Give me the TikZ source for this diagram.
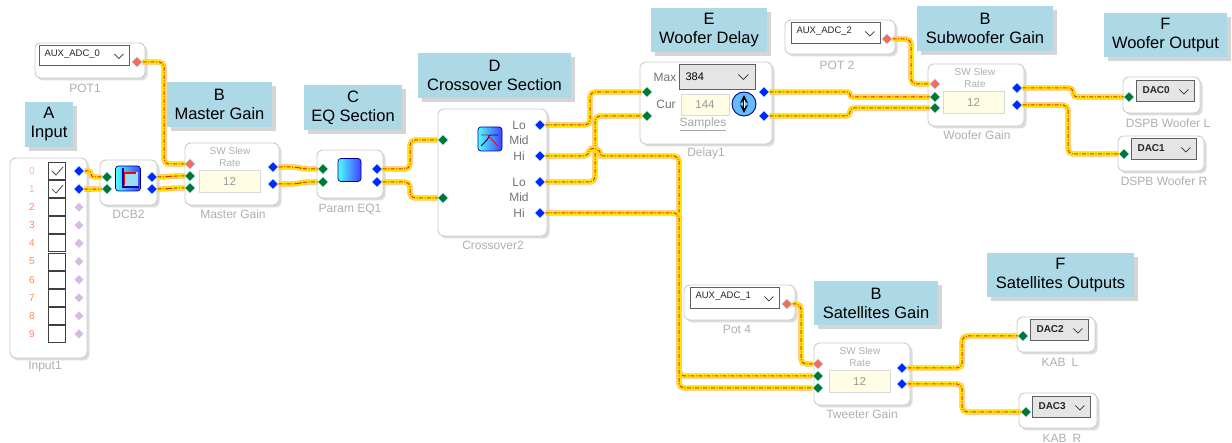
\documentclass[tikz,border=0pt]{standalone}
\usepackage{fontspec}
\setmainfont{Liberation Sans}
\usetikzlibrary{shapes.geometric,shadows}
\definecolor{titlebg}{RGB}{173,216,230}
\definecolor{wireyel}{RGB}{255,230,0}
\definecolor{wirered}{RGB}{225,45,20}
\definecolor{portblue}{RGB}{0,40,255}
\definecolor{portgreen}{RGB}{0,120,50}
\definecolor{portred}{RGB}{240,110,90}
\definecolor{portidle}{RGB}{215,185,225}
\definecolor{numsalmon}{RGB}{255,135,95}
\definecolor{cream}{RGB}{255,253,228}
\definecolor{lbl}{RGB}{175,175,175}
\pgfdeclarelayer{front}
\pgfsetlayers{main,front}
\tikzset{
  titlebox/.style={fill=titlebg, align=center, inner sep=0pt,
    font=\fontsize{16.5}{19}\selectfont,
    drop shadow={shadow xshift=4pt, shadow yshift=-4pt, fill=gray!55, opacity=.6}},
  block/.style={draw=gray!40, fill=white, rounded corners=6pt, line width=0.9pt,
    drop shadow={shadow xshift=2.5pt, shadow yshift=-2.5pt, fill=gray!60, opacity=.45}},
  blockname/.style={text=lbl, font=\fontsize{12}{12}\selectfont},
  slewtxt/.style={text=lbl, font=\fontsize{10}{10}\selectfont},
  xotxt/.style={text=gray!90!black, font=\fontsize{12}{12}\selectfont},
  valbox/.style={draw=gray!30, fill=cream, inner sep=0pt, text=gray!80,
    font=\fontsize{11.5}{12}\selectfont},
  dd/.style={draw=gray!75!black, fill=white, inner sep=0pt, line width=0.7pt},
  dacdd/.style={dd, fill=gray!20},
  ddtext/.style={anchor=west, text=black!85, font=\fontsize{9.5}{10}\selectfont},
  dactext/.style={anchor=west, text=black!85, font=\bfseries\fontsize{10}{10}\selectfont},
  chev/.style={draw=gray!40!black, line width=0.8pt},
  chk/.style={draw=black!75, fill=white, minimum size=17pt, inner sep=0pt, line width=0.8pt},
  checkmark/.style={draw=black!70, line width=0.8pt},
  icon/.style={draw=blue!60!black, rounded corners=3pt, minimum size=24pt, inner sep=0pt,
    left color=cyan!70, right color=blue!75, line width=0.7pt},
  port/.style={diamond, inner sep=0pt, minimum size=10.5pt, draw=cyan!30, line width=0.5pt},
  outp/.style={port, fill=portblue},
  inp/.style={port, fill=portgreen},
  ctlp/.style={port, fill=portred},
  idlep/.style={diamond, inner sep=0pt, minimum size=9pt, fill=portidle},
  wire/.style={draw=wirered, line width=1pt, dash pattern=on 4pt off 1.5pt on 1pt off 1.5pt,
    rounded corners=5pt,
    preaction={draw=orange!55, line width=5.4pt, solid},
    preaction={draw=wireyel, line width=4.2pt, solid}},
}
\begin{document}
\begin{tikzpicture}[x=1pt,y=-1pt]
    \path[use as bounding box, fill=white] (0,0) rectangle (1232,443);
    % Title boxes
    \node[titlebox, minimum width=48pt, minimum height=45pt] (tA) at (49,124.5) {A\\Input};
    \node[titlebox, minimum width=105pt, minimum height=45pt] (tB1) at (219.5,104.5) {B\\Master Gain};
    \node[titlebox, minimum width=98pt, minimum height=45pt] (tC) at (353,107.5) {C\\EQ Section};
    \node[titlebox, minimum width=153pt, minimum height=45pt] (tD) at (494.5,75.5) {D\\Crossover Section};
    \node[titlebox, minimum width=116pt, minimum height=44pt] (tE) at (709,30) {E\\Woofer Delay};
    \node[titlebox, minimum width=136pt, minimum height=45pt] (tB2) at (985,28.5) {B\\Subwoofer Gain};
    \node[titlebox, minimum width=123pt, minimum height=44pt] (tF1) at (1165.5,35) {F\\Woofer Output};
    \node[titlebox, minimum width=124pt, minimum height=44pt] (tB3) at (876,303) {B\\Satellites Gain};
    \node[titlebox, minimum width=147pt, minimum height=44pt] (tF2) at (1060.5,275) {F\\Satellites Outputs};
    % Input box
    \node[block, minimum width=77pt, minimum height=200pt] (inbox) at (48.5,258) {};
    \node[blockname] (inname) at (45,367) {Input1};
    \foreach \i/\ncol in {0/numsalmon!60,1/numsalmon!60,2/numsalmon,3/numsalmon,4/numsalmon,
                          5/numsalmon,6/numsalmon,7/numsalmon,8/numsalmon,9/numsalmon} {
      \node[text=\ncol, font=\fontsize{10}{10}\selectfont] (num\i) at (32,171+18.1*\i) {\i};
      \node[chk] (chk\i) at (57,171+18.1*\i) {};
    }
    \draw[checkmark] ([xshift=-5pt]chk0.center) -- ++(4,4) -- ++(7,-8);
    \draw[checkmark] ([xshift=-5pt]chk1.center) -- ++(4,4) -- ++(7,-8);
    % POT1 box
    \node[block, minimum width=110pt, minimum height=35pt] (pot1) at (90,60.5) {};
    \node[dd, minimum width=90pt, minimum height=20pt] (pot1dd) at (84,55) {};
    \node[ddtext] (pot1txt) at (41,54) {AUX\_ADC\_0};
    \draw[chev] ([xshift=-15pt,yshift=1pt]pot1dd.east) -- ++(4.5,4.5) -- ++(4.5,-4.5);
    \node[blockname] (pot1name) at (85,88) {POT1};
    % DCB2 box
    \node[block, minimum width=57pt, minimum height=45pt] (dcb) at (128.5,182.5) {};
    \node[icon, minimum size=25pt] (dcbicon) at (128,178.5) {};
    \fill[cyan!40] (124,172) rectangle (138,186);
    \draw[blue!70!black, line width=1.3pt] (123,168) -- (123,187) -- (139,187);
    \draw[red, line width=1.3pt] (124.5,185) -- (124.5,173) -- (136,173);
    \node[blockname] (dcbname) at (128.5,214) {DCB2};
    % Master gain box
    \node[block, minimum width=94pt, minimum height=62pt] (mg) at (232,174) {};
    \node[slewtxt] (mgsw) at (230,151) {SW Slew};
    \node[slewtxt] (mgrate) at (230,163) {Rate};
    \node[valbox, minimum width=61pt, minimum height=22pt] (mgval) at (229.5,181) {12};
    \node[blockname] (mgname) at (233,214) {Master Gain};
    % Param EQ box
    \node[block, minimum width=66pt, minimum height=48pt] (eq) at (350,174) {};
    \node[icon, minimum size=23pt] (eqicon) at (349.5,170) {};
    \node[blockname] (eqname) at (350,209) {Param EQ1};
    % Crossover box
    \node[block, minimum width=109pt, minimum height=127pt] (xo) at (492.5,172.5) {};
    \node[icon] (xoicon) at (490,139) {};
    \draw[blue!30!black, line width=0.8pt] (481,146) -- (487,140) -- (490,135) -- (498,135);
    \draw[red, line width=0.8pt] (481,135) -- (488,135) -- (492,140) -- (498,146);
    \node[xotxt] (xlo1) at (519,125) {Lo};
    \node[xotxt] (xmid1) at (519,140) {Mid};
    \node[xotxt] (xhi1) at (519,156) {Hi};
    \node[xotxt] (xlo2) at (519,182) {Lo};
    \node[xotxt] (xmid2) at (519,197) {Mid};
    \node[xotxt] (xhi2) at (519,213) {Hi};
    \node[blockname] (xoname) at (493,245) {Crossover2};
    % Delay box
    \node[block, minimum width=132pt, minimum height=82pt] (dl) at (706,103) {};
    \node[xotxt] (dlmaxlbl) at (665,77) {Max};
    \node[dacdd, minimum width=76pt, minimum height=25pt] (dlmax) at (717,76.5) {};
    \node[anchor=west, font=\fontsize{11}{11}\selectfont] (dlmaxtxt) at (682,77) {384};
    \draw[chev] ([xshift=-17pt,yshift=2pt]dlmax.east) -- ++(5,5) -- ++(5,-5);
    \node[xotxt] (dlcurlbl) at (666,104) {Cur};
    \node[valbox, minimum width=48pt, minimum height=21pt] (dlcur) at (705,104.5) {144};
    \node[xotxt, text=gray!70] (dlsamp) at (703,124) {\underline{Samples}};
    \node[circle, draw=blue!50!black, fill=blue!45!cyan!60!white, line width=0.9pt,
          minimum size=24pt, inner sep=0pt] (dlicon) at (744,104) {};
    \draw[line width=2.6pt, stealth-stealth] ([yshift=-3.5pt]dlicon.north) -- ([yshift=3.5pt]dlicon.south);
    \draw[white, line width=0.8pt] ([yshift=-8pt]dlicon.north) -- ([yshift=8pt]dlicon.south);
    \node[blockname] (dlname) at (706,153) {Delay1};
    % POT 2 box
    \node[block, minimum width=110pt, minimum height=34pt] (pot2) at (840,37) {};
    \node[dd, minimum width=89pt, minimum height=21pt] (pot2dd) at (835.5,32.5) {};
    \node[ddtext] (pot2txt) at (793,31) {AUX\_ADC\_2};
    \draw[chev] ([xshift=-15pt,yshift=1pt]pot2dd.east) -- ++(4.5,4.5) -- ++(4.5,-4.5);
    \node[blockname] (pot2name) at (837,65) {POT 2};
    % Woofer gain box
    \node[block, minimum width=96pt, minimum height=62pt] (wg) at (976,95) {};
    \node[slewtxt] (wgsw) at (975,72) {SW Slew};
    \node[slewtxt] (wgrate) at (975,84) {Rate};
    \node[valbox, minimum width=61pt, minimum height=22pt] (wgval) at (973.5,102) {12};
    \node[blockname] (wgname) at (977,135) {Woofer Gain};
    % Woofer output boxes
    \node[block, minimum width=77pt, minimum height=36pt] (wl) at (1161.5,95) {};
    \node[dacdd, minimum width=58pt, minimum height=21pt] (wldd) at (1165,90.5) {};
    \node[dactext] (wltxt) at (1139,90) {DAC0};
    \draw[chev] ([xshift=-15pt,yshift=1pt]wldd.east) -- ++(4.5,4.5) -- ++(4.5,-4.5);
    \node[blockname] (wlname) at (1168,123) {DSPB Woofer L};
    \node[block, minimum width=86pt, minimum height=35pt] (wr) at (1161,153.5) {};
    \node[dacdd, minimum width=65pt, minimum height=21pt] (wrdd) at (1163.5,148.5) {};
    \node[dactext] (wrtxt) at (1134,148) {DAC1};
    \draw[chev] ([xshift=-15pt,yshift=1pt]wrdd.east) -- ++(4.5,4.5) -- ++(4.5,-4.5);
    \node[blockname] (wrname) at (1164,181) {DSPB Woofer R};
    % Pot 4 box
    \node[block, minimum width=111pt, minimum height=35pt] (pot4) at (739.5,302.5) {};
    \node[dd, minimum width=89pt, minimum height=21pt] (pot4dd) at (734.5,297.5) {};
    \node[ddtext] (pot4txt) at (692,296) {AUX\_ADC\_1};
    \draw[chev] ([xshift=-15pt,yshift=1pt]pot4dd.east) -- ++(4.5,4.5) -- ++(4.5,-4.5);
    \node[blockname] (pot4name) at (737,329) {Pot 4};
    % Tweeter gain box
    \node[block, minimum width=96pt, minimum height=62pt] (tg) at (862,374) {};
    \node[slewtxt] (tgsw) at (860,351) {SW Slew};
    \node[slewtxt] (tgrate) at (860,363) {Rate};
    \node[valbox, minimum width=61pt, minimum height=22pt] (tgval) at (859.5,381) {12};
    \node[blockname] (tgname) at (862,414) {Tweeter Gain};
    % Satellite output boxes
    \node[block, minimum width=78pt, minimum height=35pt] (kl) at (1056,334.5) {};
    \node[dacdd, minimum width=58pt, minimum height=21pt] (kldd) at (1059,329.5) {};
    \node[dactext] (kltxt) at (1033,329) {DAC2};
    \draw[chev] ([xshift=-15pt,yshift=1pt]kldd.east) -- ++(4.5,4.5) -- ++(4.5,-4.5);
    \node[blockname] (klname) at (1060,362) {KAB\enspace L};
    \node[block, minimum width=78pt, minimum height=35pt] (kr) at (1058,410.5) {};
    \node[dacdd, minimum width=58pt, minimum height=21pt] (krdd) at (1061,406.5) {};
    \node[dactext] (krtxt) at (1035,406) {DAC3};
    \draw[chev] ([xshift=-15pt,yshift=1pt]krdd.east) -- ++(4.5,4.5) -- ++(4.5,-4.5);
    \node[blockname] (krname) at (1062,438) {KAB\enspace R};
    % Pins
    \begin{pgfonlayer}{front}
    \foreach \i in {0,1} \node[outp] (in\i) at (79,171+18.1*\i) {};
    \foreach \i in {2,...,9} \node[idlep] (in\i) at (79,171+18.1*\i) {};
    \node[ctlp] (pot1O) at (137,62) {};
    \node[inp] (dcbI1) at (107,177) {};
    \node[inp] (dcbI2) at (107,189) {};
    \node[outp] (dcbO1) at (152,177) {};
    \node[outp] (dcbO2) at (152,189) {};
    \node[ctlp] (mgR) at (190,164) {};
    \node[inp] (mgI1) at (190,176) {};
    \node[inp] (mgI2) at (190,188) {};
    \node[outp] (mgO1) at (273,167) {};
    \node[outp] (mgO2) at (273,184) {};
    \node[inp] (eqI1) at (323,169) {};
    \node[inp] (eqI2) at (323,182) {};
    \node[outp] (eqO1) at (377,169) {};
    \node[outp] (eqO2) at (377,182) {};
    \node[inp] (xI1) at (443,140) {};
    \node[inp] (xI2) at (443,198) {};
    \node[outp] (xLo) at (540,125) {};
    \node[outp] (xHi) at (540,156) {};
    \node[outp] (xLo2) at (540,182) {};
    \node[outp] (xHi2) at (540,213) {};
    \node[inp] (dlI1) at (647,92) {};
    \node[inp] (dlI2) at (647,116) {};
    \node[outp] (dlO1) at (764,92) {};
    \node[outp] (dlO2) at (764,116) {};
    \node[ctlp] (pot2O) at (887,39) {};
    \node[ctlp] (wgR) at (935,84) {};
    \node[inp] (wgI1) at (935,97) {};
    \node[inp] (wgI2) at (935,108) {};
    \node[outp] (wgO1) at (1017,88) {};
    \node[outp] (wgO2) at (1017,105) {};
    \node[inp] (wlI) at (1129,97) {};
    \node[inp] (wrI) at (1124,154) {};
    \node[ctlp] (pot4O) at (787,304) {};
    \node[ctlp] (tgR) at (818,364) {};
    \node[inp] (tgI1) at (818,376) {};
    \node[inp] (tgI2) at (818,388) {};
    \node[outp] (tgO1) at (902,368) {};
    \node[outp] (tgO2) at (902,384) {};
    \node[inp] (klI) at (1023,336) {};
    \node[inp] (krI) at (1026,412) {};
    \end{pgfonlayer}
    % Wires
    \draw[wire, rounded corners=3pt] (in0) -- ++(12,0) |- (dcbI1);
    \draw[wire] (in1) -- (dcbI2);
    \draw[wire] (dcbO1) -- ++(14,0) -- ([xshift=-18pt]mgI1.center) -- (mgI1);
    \draw[wire] (dcbO2) -- ++(14,0) -- ([xshift=-18pt]mgI2.center) -- (mgI2);
    \draw[wire] (pot1O) -- ++(27,0) |- (mgR);
    \draw[wire] (mgO1) -- ++(24,0) -- ([xshift=-20pt]eqI1.center) -- (eqI1);
    \draw[wire] (mgO2) -- ++(24,0) -- ([xshift=-20pt]eqI2.center) -- (eqI2);
    \draw[wire] (eqO1) -- ++(33,0) |- (xI1);
    \draw[wire] (eqO2) -- ++(33,0) |- (xI2);
    \draw[wire] (xLo) -- ++(50,0) |- (dlI1);
    \draw[wire] (xLo2) -- ++(55,0) |- (dlI2);
    \draw[wire] (xHi) -- ++(49,0) [sharp corners] .. controls +(0,-9) and +(0,-9) .. ++(12,0)
          [rounded corners=5pt] -- ++(78,0) |- (tgI1);
    \draw[wire] (xHi2) -- ++(139,0) |- (tgI2);
    \draw[wire, rounded corners=2.5pt] (dlO1) -- ++(86,0) |- (wgI1);
    \draw[wire, rounded corners=4pt] (dlO2) -- ++(86,0) |- (wgI2);
    \draw[wire] (pot2O) -- ++(24,0) |- (wgR);
    \draw[wire, rounded corners=4pt] (wgO1) -- ++(56,0) |- (wlI);
    \draw[wire] (wgO2) -- ++(51,0) |- (wrI);
    \draw[wire] (pot4O) -- ++(14,0) |- (tgR);
    \draw[wire] (tgO1) -- ++(60,0) |- (klI);
    \draw[wire] (tgO2) -- ++(60,0) |- (krI);
\end{tikzpicture}
\end{document}
